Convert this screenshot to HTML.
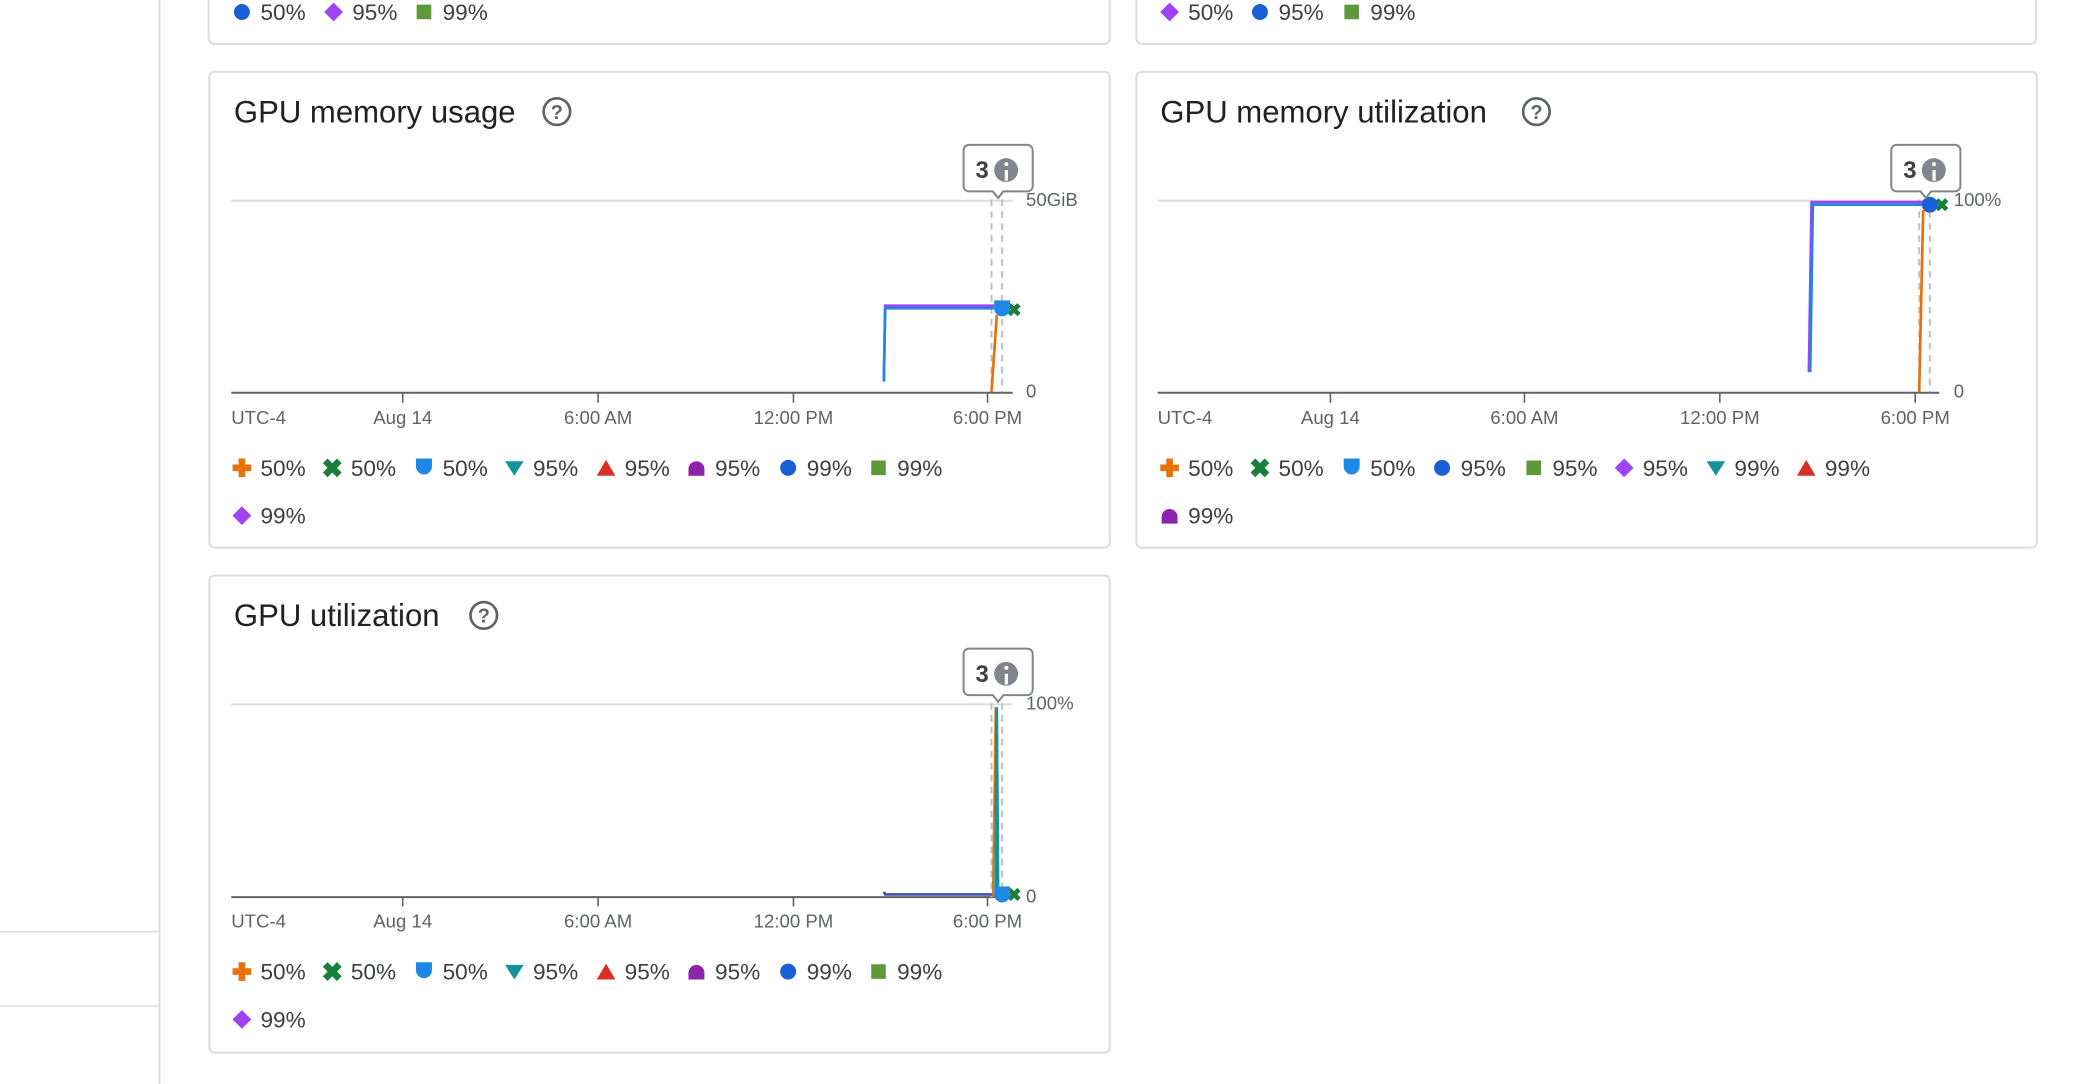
<!DOCTYPE html>
<html><head><meta charset="utf-8"><style>
html,body{margin:0;padding:0;background:#fff}
svg{display:block}
text{font-family:"Liberation Sans",Arial,sans-serif}
.t{font-size:23.4px;fill:#202124}
.ax{font-size:14px;fill:#5f6368}
.lg{font-size:17px;fill:#3c4043}
</style></head><body>
<svg width="2084" height="1084" viewBox="0 0 1568 815.6" preserveAspectRatio="none" xmlns="http://www.w3.org/2000/svg">
<defs>
<g id="plus"><path d="M-2.5,-7h5v4.5h4.5v5h-4.5v4.5h-5v-4.5h-4.5v-5h4.5z" fill="#e8710a"/></g>
<g id="xx"><g fill="#188038"><rect x="-2.5" y="-7.5" width="5" height="15" transform="rotate(45)"/><rect x="-2.5" y="-7.5" width="5" height="15" transform="rotate(-45)"/></g></g>
<g id="shield"><path d="M-6,-7h12v6a6,6 0 0 1 -12,0z" fill="#1e88e5"/></g>
<g id="tdown"><path d="M-7,-5h14l-7,11z" fill="#12939a"/></g>
<g id="tup"><path d="M-7,6h14l-7,-12z" fill="#d93025"/></g>
<g id="bell"><path d="M-6,6v-5a6,6 0 0 1 12,0v5z" fill="#8e24aa"/></g>
<g id="dot"><circle r="6" fill="#1a5fd8"/></g>
<g id="sq"><rect x="-5.5" y="-5.5" width="11" height="11" fill="#5e9a3b"/></g>
<g id="dia"><rect x="-5" y="-5" width="10" height="10" fill="#a142f4" transform="rotate(45)"/></g>
<g id="help"><circle r="10" fill="none" stroke="#5f6368" stroke-width="2"/><text x="0" y="5.5" text-anchor="middle" font-size="15" fill="#5f6368" font-weight="bold">?</text></g>
<g id="tip"><path d="M-22,-37h44a4,4 0 0 1 4,4v27a4,4 0 0 1 -4,4h-18l-4,5l-4,-5h-18a4,4 0 0 1 -4,-4v-27a4,4 0 0 1 4,-4z" fill="#fff" stroke="#80868b" stroke-width="1.5"/><text x="-12" y="-12" text-anchor="middle" font-size="18" font-weight="bold" fill="#3c4043">3</text><circle cx="6" cy="-18" r="9" fill="#80868b"/><rect x="5" y="-18" width="2.4" height="8" fill="#fff"/><circle cx="6.2" cy="-22.5" r="1.5" fill="#fff"/></g>
</defs>

<line x1="120" y1="0" x2="120" y2="816" stroke="#dadce0" stroke-width="1.5"/>
<line x1="0" y1="701" x2="120" y2="701" stroke="#dadce0" stroke-width="1.2"/>
<line x1="0" y1="757" x2="120" y2="757" stroke="#dadce0" stroke-width="1.2"/>

<path d="M157,0v29a4,4 0 0 0 4,4h670a4,4 0 0 0 4,-4v-29" fill="none" stroke="#dadce0" stroke-width="1.5"/>
<path d="M855,0v29a4,4 0 0 0 4,4h669a4,4 0 0 0 4,-4v-29" fill="none" stroke="#dadce0" stroke-width="1.5"/>
<use href="#dot" x="182" y="9"/><text class="lg" x="196" y="15">50%</text>
<use href="#dia" x="251" y="9"/><text class="lg" x="265" y="15">95%</text>
<use href="#sq" x="319" y="9"/><text class="lg" x="333" y="15">99%</text>
<use href="#dia" x="880" y="9"/><text class="lg" x="894" y="15">50%</text>
<use href="#dot" x="948" y="9"/><text class="lg" x="962" y="15">95%</text>
<use href="#sq" x="1017" y="9"/><text class="lg" x="1031" y="15">99%</text>

<!-- Card 1 -->
<rect x="157.5" y="54" width="677.5" height="358" rx="4" fill="#fff" stroke="#dadce0" stroke-width="1.5"/>
<text class="t" x="176" y="92">GPU memory usage</text>
<use href="#help" x="419" y="84"/>
<line x1="174" y1="151" x2="762" y2="151" stroke="#dadce0" stroke-width="1.5"/>
<line x1="174" y1="295.5" x2="762" y2="295.5" stroke="#5f6368" stroke-width="1.5"/>
<g stroke="#5f6368" stroke-width="1.2"><line x1="303" y1="296" x2="303" y2="303"/><line x1="450" y1="296" x2="450" y2="303"/><line x1="597" y1="296" x2="597" y2="303"/><line x1="743" y1="296" x2="743" y2="303"/></g>
<text class="ax" x="174" y="319">UTC-4</text>
<text class="ax" x="303" y="319" text-anchor="middle">Aug 14</text>
<text class="ax" x="450" y="319" text-anchor="middle">6:00 AM</text>
<text class="ax" x="597" y="319" text-anchor="middle">12:00 PM</text>
<text class="ax" x="743" y="319" text-anchor="middle">6:00 PM</text>
<text class="ax" x="772" y="155">50GiB</text>
<text class="ax" x="772" y="299">0</text>
<g stroke="#bdc1c6" stroke-width="1.5" stroke-dasharray="5,4"><line x1="746" y1="150" x2="746" y2="295"/><line x1="754" y1="150" x2="754" y2="295"/></g>
<path d="M665,287L666,230H748" fill="none" stroke="#a142f4" stroke-width="2"/>
<path d="M665,287L666,232H748" fill="none" stroke="#1e88e5" stroke-width="2"/>
<path d="M746,295L750,237" fill="none" stroke="#e8710a" stroke-width="2"/>
<use href="#xx" transform="translate(763 233) scale(.7)"/>
<use href="#shield" x="754" y="233"/>
<use href="#tip" x="751" y="146"/>
<use href="#plus" x="182" y="352"/><text class="lg" x="196" y="358">50%</text>
<use href="#xx" x="250" y="352"/><text class="lg" x="264" y="358">50%</text>
<use href="#shield" x="319" y="352"/><text class="lg" x="333" y="358">50%</text>
<use href="#tdown" x="387" y="352"/><text class="lg" x="401" y="358">95%</text>
<use href="#tup" x="456" y="352"/><text class="lg" x="470" y="358">95%</text>
<use href="#bell" x="524" y="352"/><text class="lg" x="538" y="358">95%</text>
<use href="#dot" x="593" y="352"/><text class="lg" x="607" y="358">99%</text>
<use href="#sq" x="661" y="352"/><text class="lg" x="675" y="358">99%</text>
<use href="#dia" x="182" y="388"/><text class="lg" x="196" y="394">99%</text>

<!-- Card 2 -->
<rect x="855" y="54" width="677.5" height="358" rx="4" fill="#fff" stroke="#dadce0" stroke-width="1.5"/>
<text class="t" x="873" y="92">GPU memory utilization</text>
<use href="#help" x="1156" y="84"/>
<line x1="871" y1="151" x2="1459" y2="151" stroke="#dadce0" stroke-width="1.5"/>
<line x1="871" y1="295.5" x2="1459" y2="295.5" stroke="#5f6368" stroke-width="1.5"/>
<g stroke="#5f6368" stroke-width="1.2"><line x1="1001" y1="296" x2="1001" y2="303"/><line x1="1147" y1="296" x2="1147" y2="303"/><line x1="1294" y1="296" x2="1294" y2="303"/><line x1="1441" y1="296" x2="1441" y2="303"/></g>
<text class="ax" x="871" y="319">UTC-4</text>
<text class="ax" x="1001" y="319" text-anchor="middle">Aug 14</text>
<text class="ax" x="1147" y="319" text-anchor="middle">6:00 AM</text>
<text class="ax" x="1294" y="319" text-anchor="middle">12:00 PM</text>
<text class="ax" x="1441" y="319" text-anchor="middle">6:00 PM</text>
<text class="ax" x="1470" y="155">100%</text>
<text class="ax" x="1470" y="299">0</text>
<g stroke="#bdc1c6" stroke-width="1.5" stroke-dasharray="5,4"><line x1="1444" y1="150" x2="1444" y2="295"/><line x1="1452" y1="150" x2="1452" y2="295"/></g>
<path d="M1361,280L1363,152H1448" fill="none" stroke="#a142f4" stroke-width="2"/>
<path d="M1362,280L1364,154H1448" fill="none" stroke="#1e88e5" stroke-width="2"/>
<path d="M1444,295L1447,158" fill="none" stroke="#e8710a" stroke-width="2"/>
<use href="#xx" transform="translate(1461 154) scale(.7)"/>
<use href="#dot" x="1452" y="154"/>
<use href="#tip" x="1449" y="146"/>
<use href="#plus" x="880" y="352"/><text class="lg" x="894" y="358">50%</text>
<use href="#xx" x="948" y="352"/><text class="lg" x="962" y="358">50%</text>
<use href="#shield" x="1017" y="352"/><text class="lg" x="1031" y="358">50%</text>
<use href="#dot" x="1085" y="352"/><text class="lg" x="1099" y="358">95%</text>
<use href="#sq" x="1154" y="352"/><text class="lg" x="1168" y="358">95%</text>
<use href="#dia" x="1222" y="352"/><text class="lg" x="1236" y="358">95%</text>
<use href="#tdown" x="1291" y="352"/><text class="lg" x="1305" y="358">99%</text>
<use href="#tup" x="1359" y="352"/><text class="lg" x="1373" y="358">99%</text>
<use href="#bell" x="880" y="388"/><text class="lg" x="894" y="394">99%</text>

<!-- Card 3 -->
<rect x="157.5" y="433" width="677.5" height="359" rx="4" fill="#fff" stroke="#dadce0" stroke-width="1.5"/>
<text class="t" x="176" y="471">GPU utilization</text>
<use href="#help" x="364" y="463"/>
<line x1="174" y1="530" x2="762" y2="530" stroke="#dadce0" stroke-width="1.5"/>
<line x1="174" y1="675" x2="762" y2="675" stroke="#5f6368" stroke-width="1.5"/>
<g stroke="#5f6368" stroke-width="1.2"><line x1="303" y1="675" x2="303" y2="682"/><line x1="450" y1="675" x2="450" y2="682"/><line x1="597" y1="675" x2="597" y2="682"/><line x1="743" y1="675" x2="743" y2="682"/></g>
<text class="ax" x="174" y="698">UTC-4</text>
<text class="ax" x="303" y="698" text-anchor="middle">Aug 14</text>
<text class="ax" x="450" y="698" text-anchor="middle">6:00 AM</text>
<text class="ax" x="597" y="698" text-anchor="middle">12:00 PM</text>
<text class="ax" x="743" y="698" text-anchor="middle">6:00 PM</text>
<text class="ax" x="772" y="534">100%</text>
<text class="ax" x="772" y="679">0</text>
<g stroke="#bdc1c6" stroke-width="1.5" stroke-dasharray="5,4"><line x1="746" y1="529" x2="746" y2="675"/><line x1="754" y1="529" x2="754" y2="675"/></g>
<path d="M665,671L666,673H748" fill="none" stroke="#3f51b5" stroke-width="2"/>
<path d="M747,675L749,532" fill="none" stroke="#e8710a" stroke-width="1.5"/>
<path d="M749,675L750,532L751,675" fill="none" stroke="#12939a" stroke-width="2"/>
<use href="#xx" transform="translate(763 673) scale(.7)"/>
<use href="#shield" x="754" y="674"/>
<use href="#tip" x="751" y="525"/>
<use href="#plus" x="182" y="731"/><text class="lg" x="196" y="737">50%</text>
<use href="#xx" x="250" y="731"/><text class="lg" x="264" y="737">50%</text>
<use href="#shield" x="319" y="731"/><text class="lg" x="333" y="737">50%</text>
<use href="#tdown" x="387" y="731"/><text class="lg" x="401" y="737">95%</text>
<use href="#tup" x="456" y="731"/><text class="lg" x="470" y="737">95%</text>
<use href="#bell" x="524" y="731"/><text class="lg" x="538" y="737">95%</text>
<use href="#dot" x="593" y="731"/><text class="lg" x="607" y="737">99%</text>
<use href="#sq" x="661" y="731"/><text class="lg" x="675" y="737">99%</text>
<use href="#dia" x="182" y="767"/><text class="lg" x="196" y="773">99%</text>
</svg>
</body></html>
